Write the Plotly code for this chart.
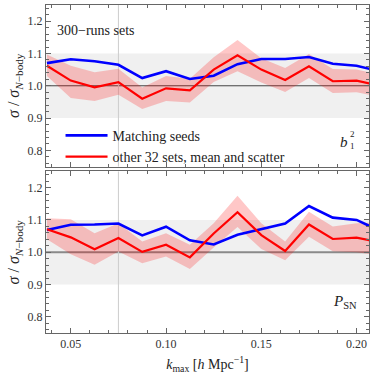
import plotly.graph_objects as go
from plotly.subplots import make_subplots

# k_max values (h/Mpc)
k_max = [0.0375, 0.05, 0.0625, 0.075, 0.0875, 0.1, 0.1125, 0.125,
         0.1375, 0.15, 0.1625, 0.175, 0.1875, 0.2, 0.2125]

# top panel: b1^2
b1_seeds = [1.070, 1.082, 1.076, 1.065, 1.024, 1.045, 1.021, 1.031,
            1.067, 1.083, 1.083, 1.089, 1.068, 1.062, 1.044]
b1_mean = [1.062, 1.016, 0.995, 1.011, 0.960, 0.992, 0.986, 1.050,
           1.094, 1.050, 1.018, 1.060, 1.014, 1.016, 1.000]
b1_upper = [1.097, 1.062, 1.042, 1.053, 0.995, 1.030, 1.022, 1.088,
            1.142, 1.085, 1.055, 1.098, 1.052, 1.050, 1.035]
b1_lower = [1.030, 0.962, 0.953, 0.972, 0.928, 0.953, 0.948, 1.012,
            1.045, 1.010, 0.981, 1.024, 0.978, 0.980, 0.965]

# bottom panel: P_SN
psn_seeds = [1.069, 1.085, 1.086, 1.089, 1.052, 1.079, 1.037, 1.024,
             1.054, 1.071, 1.089, 1.143, 1.107, 1.100, 1.065]
psn_mean = [1.071, 1.046, 1.009, 1.044, 1.001, 1.023, 0.984, 1.058,
            1.124, 1.053, 1.004, 1.086, 1.041, 1.045, 1.030]
psn_upper = [1.105, 1.102, 1.059, 1.090, 1.033, 1.059, 1.023, 1.090,
             1.175, 1.090, 1.033, 1.125, 1.080, 1.090, 1.092]
psn_lower = [1.040, 0.994, 0.961, 1.002, 0.966, 0.987, 0.948, 1.015,
             1.078, 1.010, 0.975, 1.048, 1.003, 1.000, 0.990]

FONT = "Liberation Serif, DejaVu Serif, serif"
BLUE = "#0000ff"
RED = "#ff0000"
BAND = "rgba(255, 0, 0, 0.22)"

fig = make_subplots(rows=2, cols=1, shared_xaxes=True, vertical_spacing=0.015)

panels = [(1, b1_seeds, b1_mean, b1_upper, b1_lower),
          (2, psn_seeds, psn_mean, psn_upper, psn_lower)]

for row, seeds, mean, upper, lower in panels:
    # scatter band
    fig.add_trace(go.Scatter(x=k_max, y=upper, mode="lines", line=dict(width=0),
                             showlegend=False, hoverinfo="skip"), row=row, col=1)
    fig.add_trace(go.Scatter(x=k_max, y=lower, mode="lines", line=dict(width=0),
                             fill="tonexty", fillcolor=BAND,
                             showlegend=False, hoverinfo="skip"), row=row, col=1)
    fig.add_trace(go.Scatter(x=k_max, y=seeds, mode="lines",
                             line=dict(color=BLUE, width=2.6),
                             name="Matching seeds", showlegend=(row == 1)),
                  row=row, col=1)
    fig.add_trace(go.Scatter(x=k_max, y=mean, mode="lines",
                             line=dict(color=RED, width=2.2),
                             name="other 32 sets, mean and scatter",
                             showlegend=(row == 1)),
                  row=row, col=1)

    yref = "y" if row == 1 else "y2"
    xdom = "x domain" if row == 1 else "x2 domain"
    xref = "x" if row == 1 else "x2"
    # grey 10% band
    fig.add_shape(type="rect", xref=xdom, yref=yref, x0=0, x1=1, y0=0.9, y1=1.1,
                  fillcolor="#f0f0f0", line=dict(width=0), layer="below")
    # unity line
    fig.add_shape(type="line", xref=xdom, yref=yref, x0=0, x1=1, y0=1.0, y1=1.0,
                  line=dict(color="#444444" if row == 1 else "#8a8a8a",
                            width=1 if row == 1 else 2), layer="below")
    # vertical marker at k = 0.075
    fig.add_shape(type="line", xref=xref, yref=yref + " domain", x0=0.075, x1=0.075,
                  y0=0, y1=1, line=dict(color="#cccccc", width=1), layer="below")

axis_common = dict(showline=True, linecolor="#666666", linewidth=1, mirror="ticks",
                   ticks="inside", ticklen=5, tickcolor="#666666",
                   showgrid=False, zeroline=False,
                   tickfont=dict(family=FONT, size=12, color="#333333"),
                   minor=dict(ticks="inside", ticklen=3, tickcolor="#666666"))

for i in (1, 2):
    fig.update_xaxes(range=[0.037, 0.2065], tick0=0.05, dtick=0.05,
                     tickformat=".2f", minor_dtick=0.01, row=i, col=1, **axis_common)
    fig.update_yaxes(range=[0.75, 1.25], tick0=0.8, dtick=0.1, tickformat=".1f",
                     minor_dtick=0.02, row=i, col=1,
                     title=dict(text="<i>σ</i> / <i>σ</i><sub><i>N</i>−body</sub>",
                                font=dict(family=FONT, size=16, color="#222222"),
                                standoff=3),
                     **axis_common)

fig.update_xaxes(row=2, col=1,
                 title=dict(text="<i>k</i><sub>max</sub> [<i>h</i> Mpc<sup>−1</sup>]",
                            font=dict(family=FONT, size=14, color="#222222"),
                            standoff=8))

fig.add_annotation(text="300−runs sets", xref="x domain", yref="y domain",
                   x=0.028, y=0.845, xanchor="left", yanchor="middle", showarrow=False,
                   font=dict(family=FONT, size=14, color="#222222"))
fig.add_annotation(text="<i>b</i>", xref="x domain", yref="y domain",
                   x=0.94, y=0.155, xanchor="right", yanchor="middle", showarrow=False,
                   font=dict(family=FONT, size=15, color="#222222"))
fig.add_annotation(text="2<br>1", xref="x domain", yref="y domain",
                   x=0.935, y=0.165, xanchor="left", yanchor="middle", showarrow=False,
                   align="left", font=dict(family=FONT, size=9, color="#222222"))
fig.add_annotation(text="<i>P</i><sub>SN</sub>", xref="x2 domain", yref="y2 domain",
                   x=0.97, y=0.19, xanchor="right", yanchor="middle", showarrow=False,
                   font=dict(family=FONT, size=15, color="#222222"))

fig.update_layout(
    width=374, height=382,
    margin=dict(l=46, r=5, t=5, b=49),
    plot_bgcolor="white", paper_bgcolor="white",
    font=dict(family=FONT, color="#222222"),
    showlegend=True,
    legend=dict(x=0.045, y=0.65, xanchor="left", yanchor="top",
                traceorder="normal",
                bgcolor="rgba(0,0,0,0)", font=dict(family=FONT, size=14),
                tracegroupgap=0, itemwidth=42),
)

# drop the default 8px page margin so the figure sits at the window origin
fig.write_html("out.html", config={"displayModeBar": False},
               post_script="document.body.style.margin = '0';")
